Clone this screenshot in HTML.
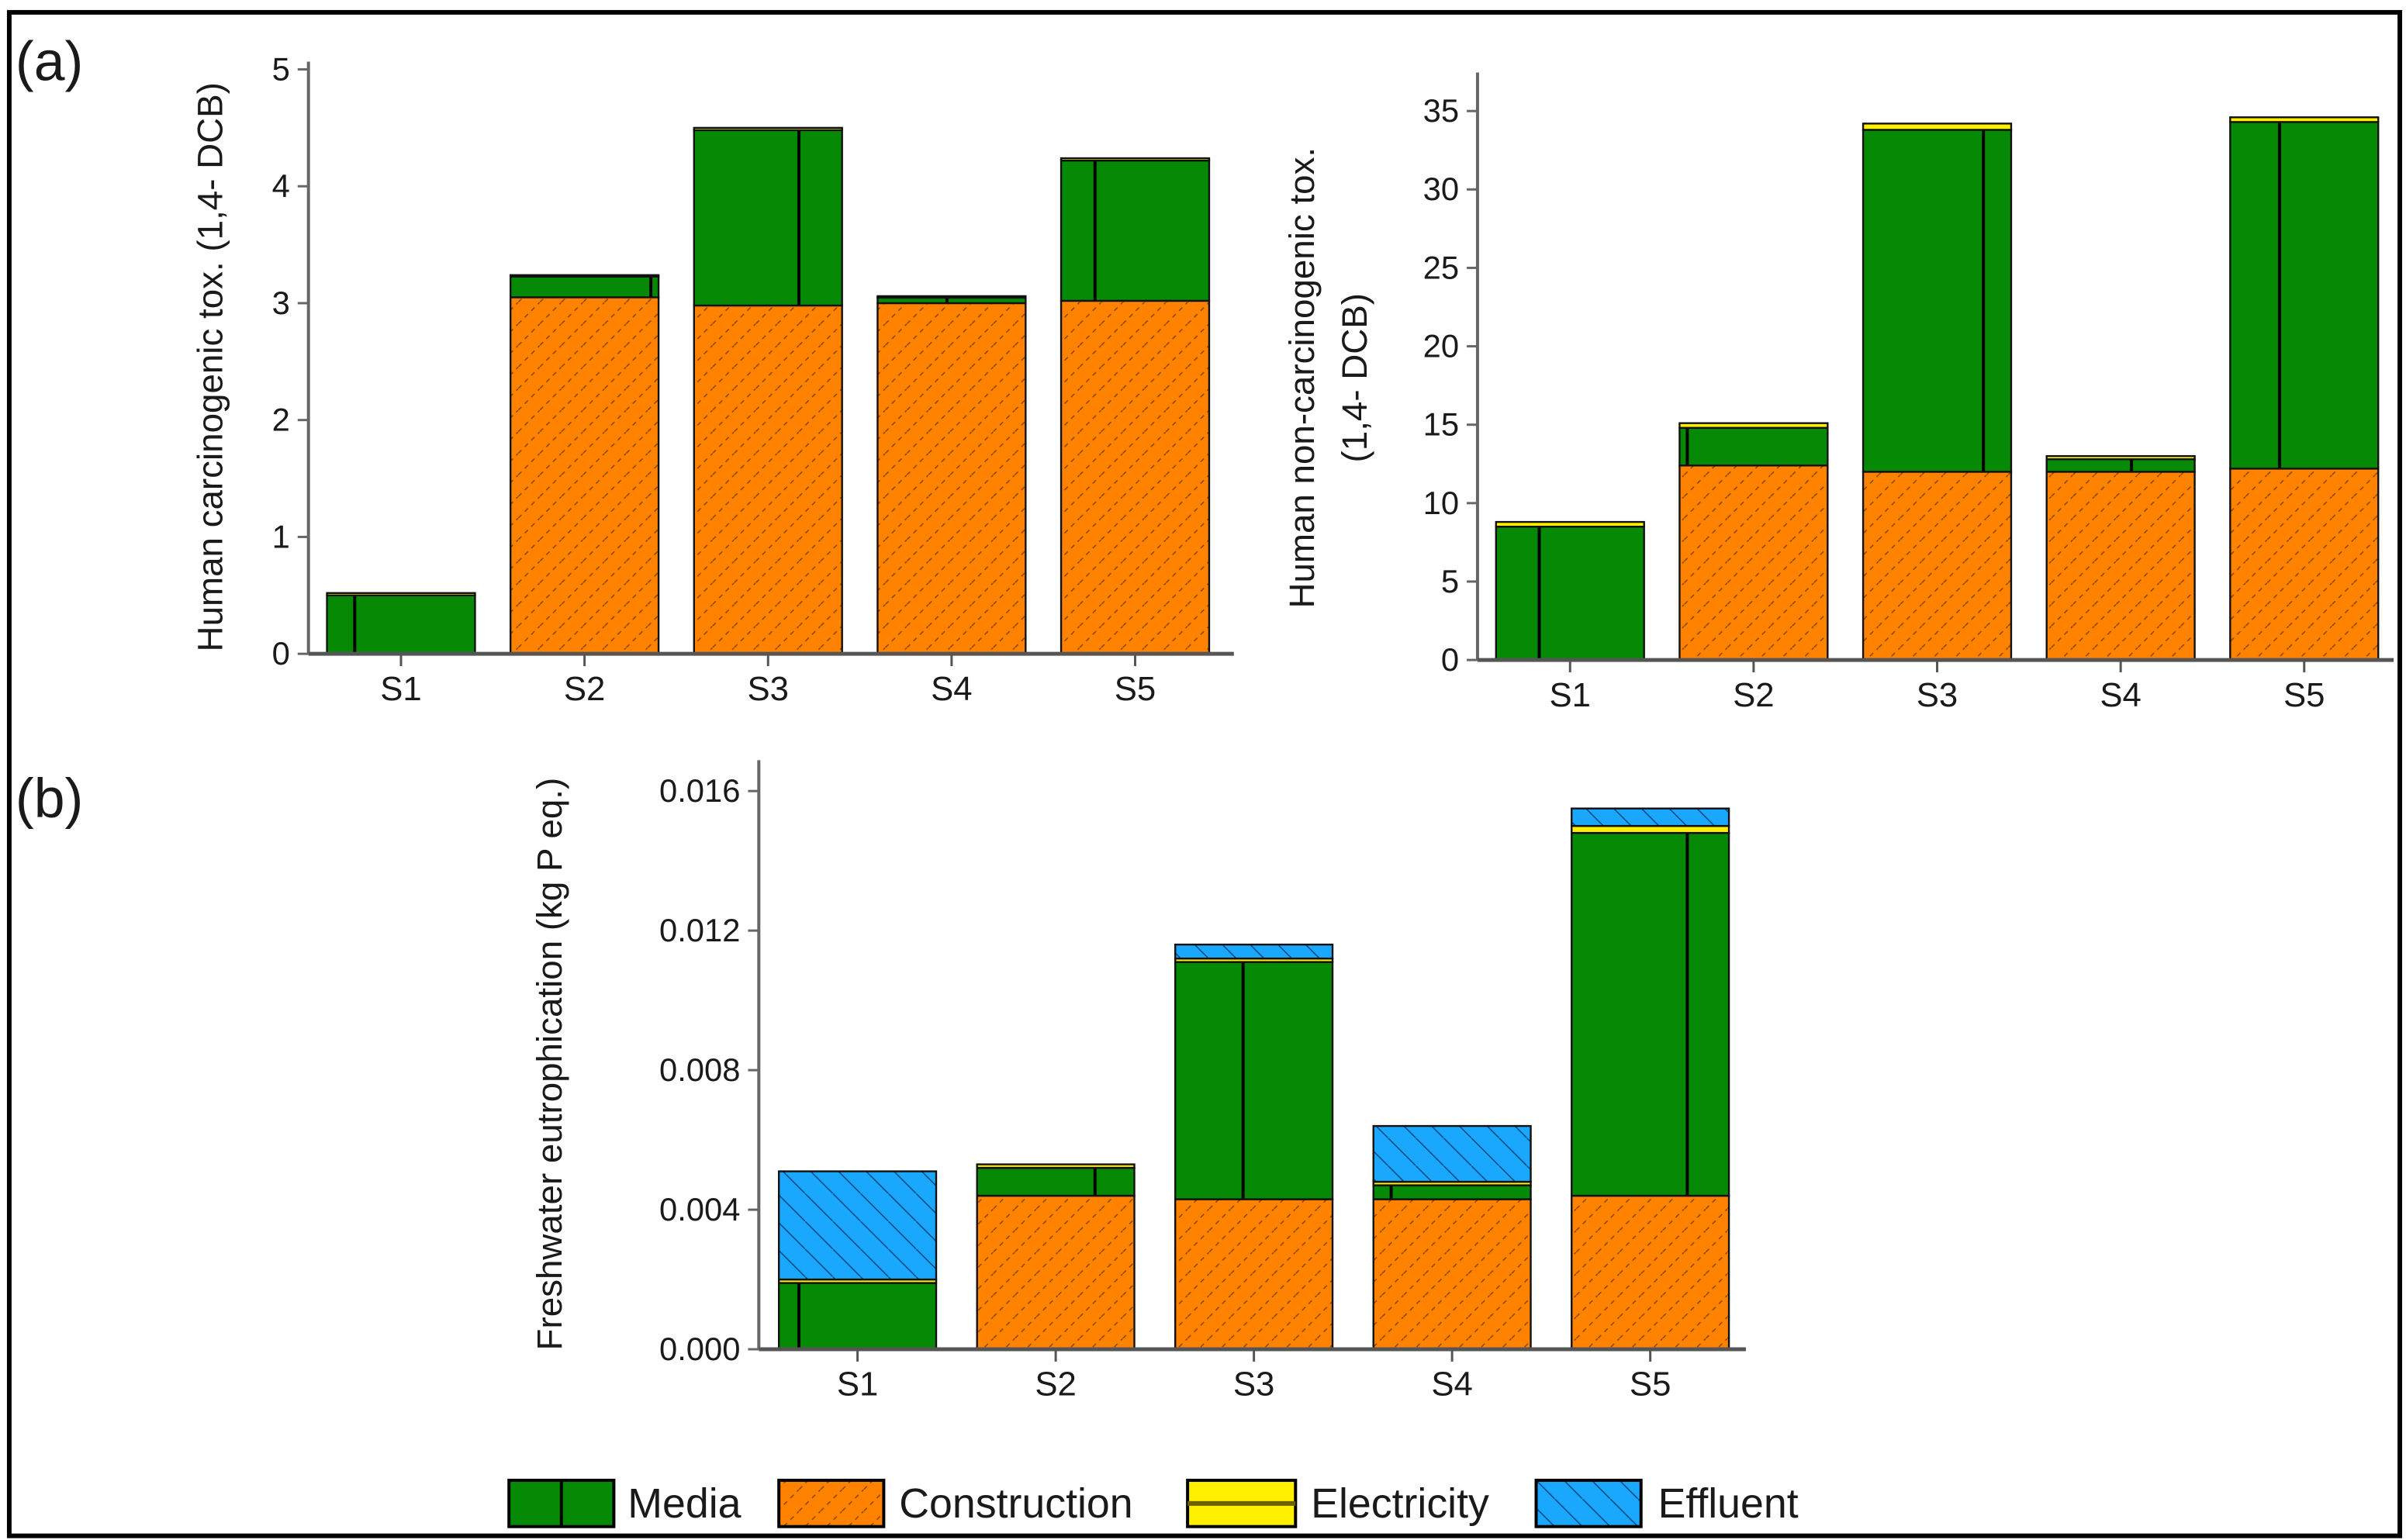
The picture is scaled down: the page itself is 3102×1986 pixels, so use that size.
<!DOCTYPE html>
<html><head><meta charset="utf-8"><style>
html,body{margin:0;padding:0;background:#fff}
svg{display:block}
text{font-family:"Liberation Sans",sans-serif;fill:#1a1a1a}
</style></head><body>
<svg id="fig" width="3102" height="1986" viewBox="0 0 1560 998.7" preserveAspectRatio="none" xmlns="http://www.w3.org/2000/svg">
<defs>
<pattern id="pm" width="96" height="20" patternUnits="userSpaceOnUse"><rect width="96" height="20" fill="#068a06"/><line x1="38" y1="0" x2="38" y2="20" stroke="#000" stroke-width="2"/></pattern>
<pattern id="pc" width="14" height="14" patternUnits="userSpaceOnUse"><rect width="14" height="14" fill="#ff8200"/><line x1="0" y1="14" x2="14" y2="0" stroke="#8a4a00" stroke-width="0.8" stroke-dasharray="3,3"/></pattern>
<pattern id="pe" width="18" height="18" patternUnits="userSpaceOnUse"><rect width="18" height="18" fill="#1aa8ff"/><line x1="0" y1="0" x2="18" y2="18" stroke="#0a4a80" stroke-width="0.8"/></pattern>
</defs>
<rect x="6" y="8" width="1550" height="988" fill="#fff" stroke="#000" stroke-width="3"/>
<text x="10" y="52" font-size="36">(a)</text>
<text x="10" y="530" font-size="36">(b)</text>
<g id="charts"></g>
<g font-size="27">
<rect x="330" y="960" width="68" height="30" fill="url(#pm)" stroke="#000" stroke-width="2"/>
<line x1="364" y1="960" x2="364" y2="990" stroke="#000" stroke-width="2"/>
<text x="407" y="984">Media</text>
<rect x="505" y="960" width="68" height="30" fill="url(#pc)" stroke="#000" stroke-width="2"/>
<text x="583" y="984">Construction</text>
<rect x="770" y="960" width="70" height="30" fill="#fff000" stroke="#000" stroke-width="2"/>
<line x1="770" y1="975" x2="840" y2="975" stroke="#6a6000" stroke-width="3"/>
<text x="850" y="984">Electricity</text>
<rect x="996" y="960" width="68" height="30" fill="url(#pe)" stroke="#000" stroke-width="2"/>
<text x="1075" y="984">Effluent</text>
</g>
</svg>
<script>
const categories = ["S1","S2","S3","S4","S5"];
// chart a1: human carcinogenic
const a1Construction = [0, 3.05, 2.98, 3.0, 3.02];
const a1Media = [0.5, 0.18, 1.5, 0.05, 1.2];
const a1Electricity = [0.02, 0.01, 0.02, 0.01, 0.02];
const a1Effluent = [0, 0, 0, 0, 0];
const a1Ticks = ["0","1","2","3","4","5"];
// chart a2: human non-carcinogenic
const a2Construction = [0, 12.4, 12.0, 12.0, 12.2];
const a2Media = [8.5, 2.4, 21.8, 0.8, 22.1];
const a2Electricity = [0.3, 0.3, 0.4, 0.2, 0.3];
const a2Effluent = [0, 0, 0, 0, 0];
const a2Ticks = ["0","5","10","15","20","25","30","35"];
// chart b: freshwater eutrophication
const bConstruction = [0, 0.0044, 0.0043, 0.0043, 0.0044];
const bMedia = [0.0019, 0.0008, 0.0068, 0.0004, 0.0104];
const bElectricity = [0.0001, 0.0001, 0.0001, 0.0001, 0.0002];
const bEffluent = [0.0031, 0, 0.0004, 0.0016, 0.0005];
const bTicks = ["0.000","0.004","0.008","0.012","0.016"];

const NS="http://www.w3.org/2000/svg";
const root=document.getElementById('charts');
function mk(tag,attrs,parent){const e=document.createElementNS(NS,tag);for(const k in attrs)e.setAttribute(k,attrs[k]);(parent||root).appendChild(e);return e;}

function drawChart(cfg){
  const g=mk('g',{});
  
  
  const yScale=v=>cfg.y0-(v/cfg.max)*(cfg.y0-cfg.yTop);
  const xCenter=i=>cfg.xStart+cfg.bw/2+i*cfg.step;
  const series=[["construction",cfg.cons,"url(#pc)"],["media",cfg.media,"url(#pm)"],["electricity",cfg.elec,"#fff000"],["effluent",cfg.eff,"url(#pe)"]];
  categories.forEach((c,i)=>{
    let base=0;
    const x=xCenter(i)-cfg.bw/2;
    series.forEach(([nm,arr,fill])=>{
      const v=arr[i]; if(!(v>0)) return;
      const y1=yScale(base), y2=yScale(base+v);
      const r=mk('rect',{x:x,y:y2,width:cfg.bw,height:Math.max(y1-y2,1),fill:fill,stroke:'#111','stroke-width':1.2},g);
      
      
      base+=v;
    });
  });
  const ya=mk('line',{x1:cfg.axisX,y1:cfg.y0,x2:cfg.axisX,y2:cfg.yTop-cfg.over,stroke:'#666','stroke-width':2},g);
  
  
  const xa=mk('line',{x1:cfg.axisX,y1:cfg.y0,x2:cfg.axisEnd,y2:cfg.y0,stroke:'#555','stroke-width':2.5},g);
  
  
  cfg.ticks.forEach((t,i)=>{
    const v=i*cfg.max/(cfg.ticks.length-1); const y=yScale(v);
    mk('line',{x1:cfg.axisX-7,y1:y,x2:cfg.axisX,y2:y,stroke:'#666','stroke-width':1.5},g);
    const tx=mk('text',{x:cfg.axisX-12,y:y+7,'font-size':21,'text-anchor':'end'},g);
    tx.textContent=t;
    
    
  });
  categories.forEach((c,i)=>{
    const x=xCenter(i);
    mk('line',{x1:x,y1:cfg.y0,x2:x,y2:cfg.y0+8,stroke:'#555','stroke-width':1.5},g);
    const tx=mk('text',{x:x,y:cfg.y0+30,'font-size':22,'text-anchor':'middle'},g);
    tx.textContent=c;
    
    
  });
  cfg.title.forEach((line,k)=>{
    const tx=mk('text',{x:0,y:0,'font-size':23,'text-anchor':'middle',transform:`translate(${cfg.titleX+k*34},${cfg.titleY}) rotate(-90)`},g);
    tx.textContent=line;
    
    
  });
}
drawChart({name:'chart-human-carcinogenic',cons:a1Construction,media:a1Media,elec:a1Electricity,eff:a1Effluent,ticks:a1Ticks,max:5,over:5,
  y0:424,yTop:45,axisX:200,axisEnd:800,xStart:212,bw:96,step:119,title:["Human carcinogenic tox. (1,4- DCB)"],titleX:144,titleY:238});
drawChart({name:'chart-human-non-carcinogenic',cons:a2Construction,media:a2Media,elec:a2Electricity,eff:a2Effluent,ticks:a2Ticks,max:35,over:25,
  y0:428,yTop:72,axisX:958,axisEnd:1552,xStart:970,bw:96,step:119,title:["Human non-carcinogenic tox.","(1,4- DCB)"],titleX:852,titleY:245});
drawChart({name:'chart-freshwater-eutrophication',cons:bConstruction,media:bMedia,elec:bElectricity,eff:bEffluent,ticks:bTicks,max:0.016,over:20,
  y0:875,yTop:513,axisX:492,axisEnd:1132,xStart:505,bw:102,step:128.5,title:["Freshwater eutrophication (kg P eq.)"],titleX:364,titleY:690});
</script>
</body></html>
